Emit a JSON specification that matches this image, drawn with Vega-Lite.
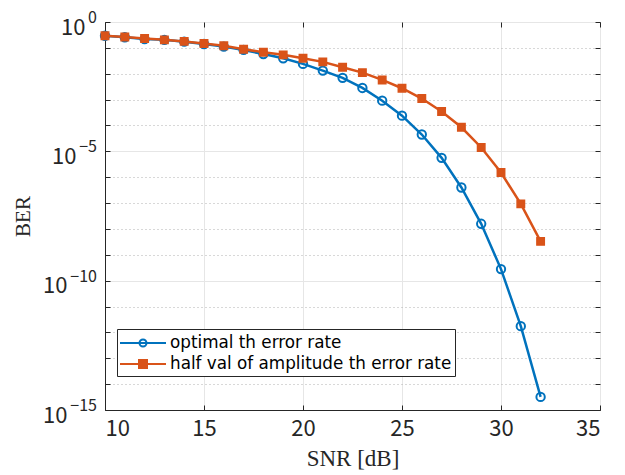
{
  "$schema": "https://vega.github.io/schema/vega-lite/v6.json",
  "width": 495,
  "height": 388,
  "autosize": "none",
  "padding": {"left": 105, "top": 22, "right": 25, "bottom": 65},
  "background": "white",
  "config": {
    "view": {"stroke": "#262626", "strokeWidth": 1},
    "axis": {
      "domainColor": "#262626",
      "tickColor": "#262626",
      "labelColor": "#262626",
      "labelFont": "Noto Sans CJK JP",
      "labelFontSize": 22,
      "titleFont": "Liberation Serif",
      "titleFontSize": 22,
      "titleFontWeight": "normal",
      "titleColor": "#262626",
      "gridColor": "#e6e6e6",
      "gridWidth": 1
    }
  },
  "data": {
    "values": [
      {"snr": 10, "ber": 0.295, "series": "optimal th error rate"},
      {"snr": 11, "ber": 0.257, "series": "optimal th error rate"},
      {"snr": 12, "ber": 0.219, "series": "optimal th error rate"},
      {"snr": 13, "ber": 0.204, "series": "optimal th error rate"},
      {"snr": 14, "ber": 0.174, "series": "optimal th error rate"},
      {"snr": 15, "ber": 0.141, "series": "optimal th error rate"},
      {"snr": 16, "ber": 0.112, "series": "optimal th error rate"},
      {"snr": 17, "ber": 0.0832, "series": "optimal th error rate"},
      {"snr": 18, "ber": 0.0575, "series": "optimal th error rate"},
      {"snr": 19, "ber": 0.0398, "series": "optimal th error rate"},
      {"snr": 20, "ber": 0.024, "series": "optimal th error rate"},
      {"snr": 21, "ber": 0.0132, "series": "optimal th error rate"},
      {"snr": 22, "ber": 0.00692, "series": "optimal th error rate"},
      {"snr": 23, "ber": 0.00282, "series": "optimal th error rate"},
      {"snr": 24, "ber": 0.00091, "series": "optimal th error rate"},
      {"snr": 25, "ber": 0.00024, "series": "optimal th error rate"},
      {"snr": 26, "ber": 4.47e-5, "series": "optimal th error rate"},
      {"snr": 27, "ber": 5.6e-6, "series": "optimal th error rate"},
      {"snr": 28, "ber": 4.0e-7, "series": "optimal th error rate"},
      {"snr": 29, "ber": 1.58e-8, "series": "optimal th error rate"},
      {"snr": 30, "ber": 2.8e-10, "series": "optimal th error rate"},
      {"snr": 31, "ber": 1.74e-12, "series": "optimal th error rate"},
      {"snr": 32, "ber": 3.2e-15, "series": "optimal th error rate"},
      {"snr": 10, "ber": 0.295, "series": "half val of amplitude th error rate"},
      {"snr": 11, "ber": 0.263, "series": "half val of amplitude th error rate"},
      {"snr": 12, "ber": 0.229, "series": "half val of amplitude th error rate"},
      {"snr": 13, "ber": 0.204, "series": "half val of amplitude th error rate"},
      {"snr": 14, "ber": 0.178, "series": "half val of amplitude th error rate"},
      {"snr": 15, "ber": 0.148, "series": "half val of amplitude th error rate"},
      {"snr": 16, "ber": 0.12, "series": "half val of amplitude th error rate"},
      {"snr": 17, "ber": 0.089, "series": "half val of amplitude th error rate"},
      {"snr": 18, "ber": 0.0676, "series": "half val of amplitude th error rate"},
      {"snr": 19, "ber": 0.0537, "series": "half val of amplitude th error rate"},
      {"snr": 20, "ber": 0.0398, "series": "half val of amplitude th error rate"},
      {"snr": 21, "ber": 0.0288, "series": "half val of amplitude th error rate"},
      {"snr": 22, "ber": 0.0178, "series": "half val of amplitude th error rate"},
      {"snr": 23, "ber": 0.011, "series": "half val of amplitude th error rate"},
      {"snr": 24, "ber": 0.00575, "series": "half val of amplitude th error rate"},
      {"snr": 25, "ber": 0.00275, "series": "half val of amplitude th error rate"},
      {"snr": 26, "ber": 0.0011, "series": "half val of amplitude th error rate"},
      {"snr": 27, "ber": 0.000347, "series": "half val of amplitude th error rate"},
      {"snr": 28, "ber": 8.5e-5, "series": "half val of amplitude th error rate"},
      {"snr": 29, "ber": 1.41e-5, "series": "half val of amplitude th error rate"},
      {"snr": 30, "ber": 1.51e-6, "series": "half val of amplitude th error rate"},
      {"snr": 31, "ber": 9.3e-8, "series": "half val of amplitude th error rate"},
      {"snr": 32, "ber": 3.3e-9, "series": "half val of amplitude th error rate"}
    ]
  },
  "layer": [
    {
      "encoding": {
        "x": {
          "field": "snr",
          "type": "quantitative",
          "scale": {"domain": [10, 35], "nice": false, "zero": false},
          "axis": {
            "title": "SNR [dB]",
            "titleFontSize": 23,
            "values": [10, 15, 20, 25, 30, 35],
            "tickSize": -5,
            "labelPadding": 13,
            "titlePadding": 8,
            "grid": true
          }
        },
        "y": {
          "field": "ber",
          "type": "quantitative",
          "scale": {"type": "log", "domain": [1e-15, 1], "nice": false},
          "axis": {
            "title": "BER",
            "titleFontSize": 21,
            "values": [1, 1e-1, 1e-2, 1e-3, 1e-4, 1e-5, 1e-6, 1e-7, 1e-8, 1e-9, 1e-10, 1e-11, 1e-12, 1e-13, 1e-14, 1e-15],
            "tickSize": -5,
            "labelOffset": 5,
            "labelPadding": {"condition": [{"test": "round(log(datum.value)/LN10) == 0", "value": 25}, {"test": "round(log(datum.value)/LN10) == -5", "value": 34}], "value": 43},
            "titlePadding": 9,
            "grid": true,
            "labelExpr": "round(log(datum.value)/LN10) % 5 == 0 ? '10' : ''",
            "gridDash": {"condition": {"test": "round(log(datum.value)/LN10) % 5 == 0", "value": []}, "value": [1, 3]},
            "gridColor": {"condition": {"test": "round(log(datum.value)/LN10) % 5 == 0", "value": "#e6e6e6"}, "value": "#b0b0b0"}
          }
        }
      },
      "layer": [
        {
          "transform": [{"filter": "datum.series == 'optimal th error rate'"}],
          "mark": {"type": "line", "color": "#0072BD", "strokeWidth": 2.5}
        },
        {
          "transform": [{"filter": "datum.series == 'optimal th error rate'"}],
          "mark": {"type": "point", "shape": "circle", "filled": false, "color": "#0072BD", "strokeWidth": 2, "size": 70, "opacity": 1}
        },
        {
          "transform": [{"filter": "datum.series != 'optimal th error rate'"}],
          "mark": {"type": "line", "color": "#D95319", "strokeWidth": 2.5}
        },
        {
          "transform": [{"filter": "datum.series != 'optimal th error rate'"}],
          "mark": {"type": "point", "shape": "square", "filled": true, "color": "#D95319", "stroke": "#D95319", "strokeWidth": 1.5, "size": 55, "opacity": 1}
        },
        {
          "mark": {"type": "point", "opacity": 0},
          "encoding": {
            "stroke": {
              "field": "series",
              "type": "nominal",
              "sort": null,
              "scale": {"domain": ["optimal th error rate", "half val of amplitude th error rate"], "range": ["#0072BD", "#D95319"]},
              "legend": {"title": null}
            },
            "fill": {
              "field": "series",
              "type": "nominal",
              "sort": null,
              "scale": {"domain": ["optimal th error rate", "half val of amplitude th error rate"], "range": ["transparent", "#D95319"]},
              "legend": {"title": null}
            },
            "shape": {
              "field": "series",
              "type": "nominal",
              "sort": null,
              "scale": {
                "domain": ["optimal th error rate", "half val of amplitude th error rate"],
                "range": [
                  "M-2.3,0L2.3,0M0.35,0A0.35,0.35,0,1,1,-0.35,0A0.35,0.35,0,1,1,0.35,0",
                  "M-2.3,0L2.3,0M-0.4,-0.4L0.4,-0.4L0.4,0.4L-0.4,0.4Z"
                ]
              },
              "legend": {
                "title": null,
                "orient": "none",
                "legendX": 12,
                "legendY": 307,
                "symbolSize": 400,
                "symbolStrokeWidth": 2,
                "symbolOpacity": 1,
                "symbolOffset": 12,
                "labelOffset": 16,
                "labelFont": "DejaVu Sans",
                "labelFontSize": 16.8,
                "labelColor": "#000000",
                "labelLimit": 400,
                "strokeColor": "#262626",
                "fillColor": "white",
                "padding": 3,
                "rowPadding": 1
              }
            }
          }
        }
      ]
    },
    {
      "data": {
        "values": [
          {"v": 1, "e": "0"},
          {"v": 1e-5, "e": "−5"},
          {"v": 1e-10, "e": "−10"},
          {"v": 1e-15, "e": "−15"}
        ]
      },
      "mark": {"type": "text", "align": "right", "baseline": "middle", "dx": -8, "dy": -4, "font": "Noto Sans CJK JP", "fontSize": 16, "color": "#262626"},
      "encoding": {
        "x": {
          "datum": 10,
          "type": "quantitative",
          "scale": {"domain": [10, 35], "nice": false, "zero": false},
          "axis": {"orient": "top", "title": null, "values": [10, 15, 20, 25, 30, 35], "tickSize": -5, "labels": false, "domain": false, "grid": false}
        },
        "y": {
          "field": "v",
          "type": "quantitative",
          "scale": {"type": "log", "domain": [1e-15, 1], "nice": false},
          "axis": {"orient": "right", "title": null, "values": [1, 1e-1, 1e-2, 1e-3, 1e-4, 1e-5, 1e-6, 1e-7, 1e-8, 1e-9, 1e-10, 1e-11, 1e-12, 1e-13, 1e-14, 1e-15], "tickSize": -5, "labels": false, "domain": false, "grid": false}
        },
        "text": {"field": "e"}
      }
    }
  ],
  "resolve": {"axis": {"x": "independent", "y": "independent"}}
}
